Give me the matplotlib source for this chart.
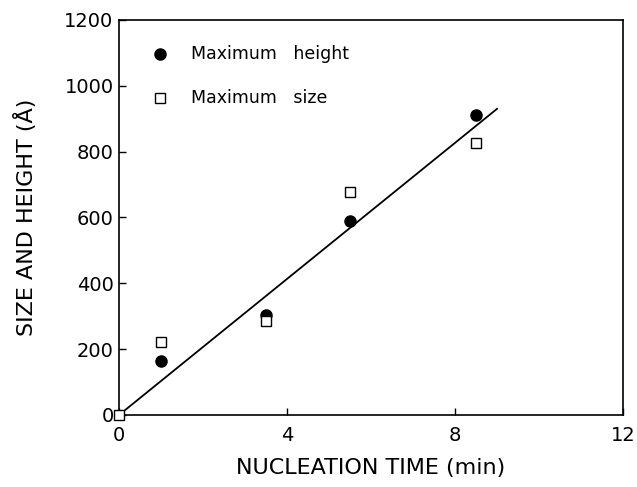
import matplotlib
matplotlib.use("Agg")
import matplotlib.pyplot as plt

# data
time_height = [1.0, 3.5, 5.5, 8.5]
max_height = [165, 303, 588, 912]
time_size = [0.0, 1.0, 3.5, 5.5, 8.5]
max_size = [0, 222, 285, 676, 827]
fit_x = [0.0, 9.0]
fit_y = [0, 930]

plt.rcParams['font.family'] = ['DejaVu Sans']

fig = plt.figure(figsize=(6.37, 4.87), dpi=100)
ax = fig.add_axes([0.187, 0.148, 0.791, 0.811])

ax.plot(fit_x, fit_y, color='black', lw=1.3, zorder=2)
ax.plot(time_height, max_height, 'o', color='black', ms=8, zorder=3)
ax.plot(time_size, max_size, 's', mfc='white', mec='black', mew=1.0, ms=7.5,
        zorder=4, clip_on=False)

# legend drawn by hand like the original
ax.plot([0.98], [1097], 'o', color='black', ms=8, clip_on=False)
ax.plot([0.98], [964], 's', mfc='white', mec='black', mew=1.0, ms=7.5, clip_on=False)
ax.text(1.72, 1097, 'Maximum   height', fontsize=12.5, va='center')
ax.text(1.72, 964, 'Maximum   size', fontsize=12.5, va='center')

ax.set_xlim(0, 12)
ax.set_ylim(0, 1200)
ax.set_xticks([0, 4, 8, 12])
ax.set_yticks([0, 200, 400, 600, 800, 1000, 1200])
ax.tick_params(direction='in', length=5, width=1, labelsize=14, pad=4)
ax.tick_params(axis='x', pad=8)
for s in ax.spines.values():
    s.set_linewidth(1.2)

ax.set_xlabel('NUCLEATION TIME (min)', fontsize=16, labelpad=9)
ax.set_ylabel('SIZE AND HEIGHT (Å)', fontsize=16, labelpad=20)

fig.savefig('out.png', dpi=100)
